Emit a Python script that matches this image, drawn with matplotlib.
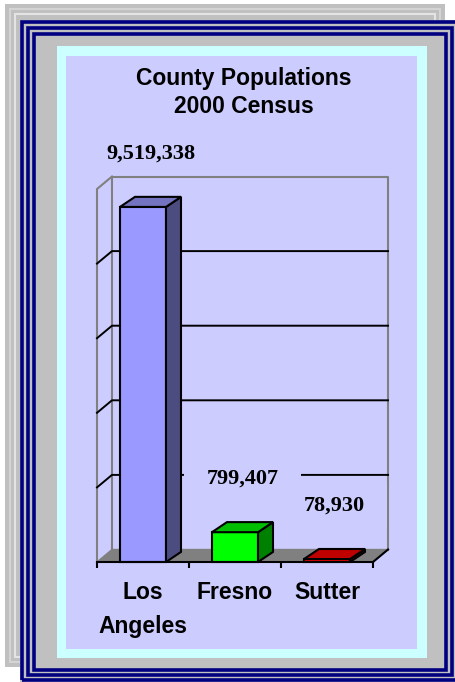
import matplotlib.pyplot as plt
from matplotlib.patches import Rectangle, Polygon

counties = ['Los\nAngeles', 'Fresno', 'Sutter']
population = [9519338, 799407, 78930]
value_labels = ['9,519,338', '799,407', '78,930']
grid_values = [2000000, 4000000, 6000000, 8000000]
y_max = 10000000

front_colors = ['#9999ff', '#00ff00', '#ff0000']
top_colors = ['#7373bf', '#00bf00', '#bf0000']
side_colors = ['#4c4c80', '#008000', '#800000']

W, H = 456, 682
fig = plt.figure(figsize=(W / 100, H / 100), dpi=100)
fig.patch.set_facecolor('white')


def px_rect(x0, y0, x1, y1, **kw):
    # rectangle in pixels, measured from the top-left corner
    r = Rectangle((x0 / W, 1 - y1 / H), (x1 - x0) / W, (y1 - y0) / H,
                  transform=fig.transFigure, zorder=-5, **kw)
    fig.patches.append(r)


# stacked page frame
px_rect(5, 4, 445, 667, fc='#c0c0c0', ec='none')
px_rect(10, 9, 440, 662, fc='none', ec='#d4d4d4', lw=1.5)
px_rect(15, 14, 435, 657, fc='none', ec='#e4e4e4', lw=1.5)
px_rect(20, 20, 460, 690, fc='#c0c0c0', ec='none')
for box in [(22, 22, 457.5, 680.3), (28.5, 28, 451.8, 675.3), (34, 34, 446, 670)]:
    px_rect(*box, fc='none', ec='#000080', lw=2.6)
px_rect(57, 46, 427, 658, fc='#ccffff', ec='none')
px_rect(66, 56, 417, 649, fc='#ccccff', ec='none')

title_font = dict(family='Liberation Sans', weight='bold', size=16.5)
fig.text(244 / W, 1 - 85 / H, 'County Populations', ha='center', va='baseline', **title_font)
fig.text(244 / W, 1 - 113 / H, '2000 Census', ha='center', va='baseline', **title_font)

n = len(counties)
ax = fig.add_axes([97 / W, 1 - 562 / H, 276 / W, 373 / H])
ax.set_xlim(0, n)
ax.set_ylim(0, y_max)
ax.patch.set_visible(False)
for s in ['left', 'right', 'top']:
    ax.spines[s].set_visible(False)
ax.spines['bottom'].set_linewidth(1.5)
ax.spines['bottom'].set_zorder(5)
ax.set_yticks([])
ax.set_xticks(range(n + 1), [''] * (n + 1))
ax.tick_params(axis='x', which='major', length=4.5, width=1.5, color='black')
ax.set_xticks([i + 0.5 for i in range(n)], counties, minor=True)
ax.tick_params(axis='x', which='minor', length=0, pad=14)
for t in ax.get_xticklabels(minor=True):
    t.set_fontfamily('Liberation Sans')
    t.set_fontweight('bold')
    t.set_fontsize(16.5)
    t.set_linespacing(1.6)
    t.set_multialignment('center')

# depth of the walls and of the bars
wall_dx, wall_dy = 0.163, 0.0335 * y_max
bar_dx, bar_dy = 0.163, 0.027 * y_max
wall_gray = '#808080'

floor = Polygon([(0, 0), (n, 0), (n + wall_dx, wall_dy), (wall_dx, wall_dy)],
                fc=wall_gray, ec=wall_gray, lw=1, zorder=1, clip_on=False)
ax.add_patch(floor)
ax.plot([n, n + wall_dx], [0, wall_dy], color='black', lw=1.5, zorder=1.2, clip_on=False)
ax.plot([0, 0, wall_dx], [0, y_max, y_max + wall_dy], color=wall_gray, lw=1.5, zorder=1.1, clip_on=False)
ax.plot([wall_dx, wall_dx, n + wall_dx, n + wall_dx], [wall_dy, y_max + wall_dy, y_max + wall_dy, wall_dy],
        color=wall_gray, lw=1.5, zorder=1.1, clip_on=False)
for g in grid_values:
    ax.plot([0, wall_dx, n + wall_dx], [g, g + wall_dy, g + wall_dy], color='black', lw=1.4,
            zorder=1.2, clip_on=False)

xs = [i + 0.5 for i in range(n)]
bw = 0.5
ax.bar(xs, population, width=bw, color=front_colors, edgecolor='black', linewidth=1.5,
       zorder=3, clip_on=False)
for i, (xc, v) in enumerate(zip(xs, population)):
    x0, x1 = xc - bw / 2, xc + bw / 2
    top = Polygon([(x0, v), (x1, v), (x1 + bar_dx, v + bar_dy), (x0 + bar_dx, v + bar_dy)],
                  fc=top_colors[i], ec='black', lw=1.5, zorder=3, clip_on=False)
    side = Polygon([(x1, 0), (x1 + bar_dx, bar_dy), (x1 + bar_dx, v + bar_dy), (x1, v)],
                   fc=side_colors[i], ec='black', lw=1.5, zorder=3, clip_on=False)
    ax.add_patch(side)
    ax.add_patch(top)
    ann = ax.annotate(value_labels[i], xy=(xc + bar_dx / 2, v + bar_dy), xytext=(0, 31),
                      textcoords='offset points', ha='center', va='center',
                      family='Liberation Serif', weight='bold', size=16, zorder=4,
                      annotation_clip=False,
                      bbox=dict(boxstyle='square,pad=1.0', fc='#ccccff', ec='none'))
    ann.get_bbox_patch().set_mutation_aspect(0.5)

fig.savefig('out.png', dpi=100)
